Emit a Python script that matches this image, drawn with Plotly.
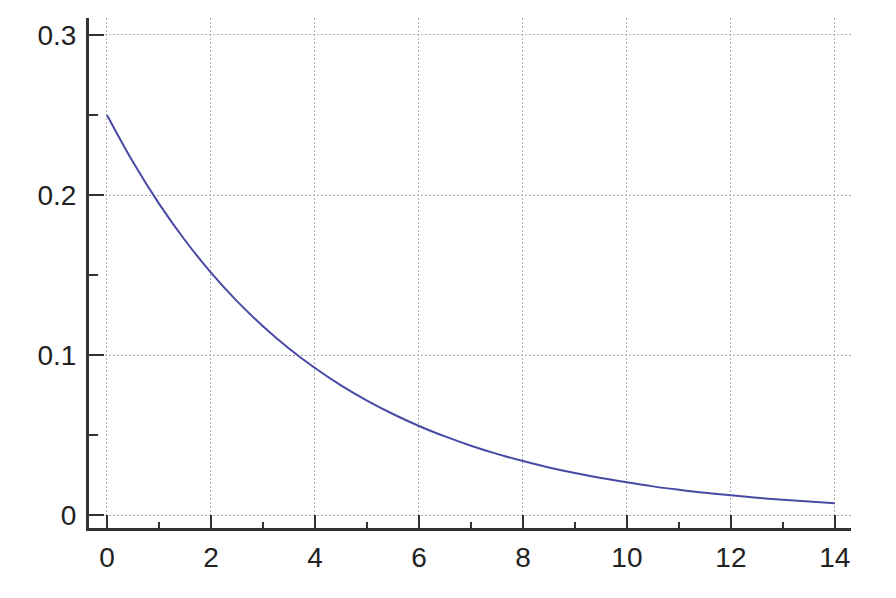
"""Decay curve, Mathematica-style frame."""

import plotly.graph_objects as go

# values
x_vals = [0, 0.5, 1, 1.5, 2, 2.5, 3, 3.5, 4, 4.5, 5, 5.5, 6, 6.5, 7,
          7.5, 8, 8.5, 9, 9.5, 10, 10.5, 11, 11.5, 12, 12.5, 13, 13.5, 14]
y_vals = [0.250, 0.2206, 0.1947, 0.1718, 0.1516, 0.1338, 0.1181, 0.1042,
          0.0920, 0.0812, 0.0717, 0.0633, 0.0558, 0.0493, 0.0435, 0.0384,
          0.0339, 0.0299, 0.0264, 0.0233, 0.0206, 0.0181, 0.0160, 0.0141,
          0.0125, 0.0110, 0.0097, 0.0086, 0.0076]

x_ticks = [0, 2, 4, 6, 8, 10, 12, 14]
y_ticks = [0, 0.1, 0.2, 0.3]
y_tick_text = ["0", "0.1", "0.2", "0.3"]

axis_color = "#333333"
grid_color = "#aaaaaa"
tick_font = dict(family="Liberation Sans, Arial", size=28, color="#222222")

fig = go.Figure()

fig.add_trace(
    go.Scatter(
        x=x_vals,
        y=y_vals,
        mode="lines",
        line=dict(color="rgb(72,74,165)", width=2, shape="spline"),
        showlegend=False,
        hoverinfo="skip",
    )
)

fig.update_xaxes(
    range=[-0.346, 14.31],
    tickvals=x_ticks,
    ticks="inside",
    ticklen=13,
    tickwidth=2,
    tickcolor=axis_color,
    showline=True,
    linecolor=axis_color,
    linewidth=3,
    showgrid=True,
    gridcolor=grid_color,
    griddash="2px,2px",
    gridwidth=1,
    zeroline=False,
    minor=dict(dtick=1, tick0=1, ticks="inside", ticklen=6, tickwidth=1.5,
               tickcolor=axis_color, showgrid=False),
    tickfont=tick_font,
    ticklabelstandoff=2,
)

fig.update_yaxes(
    range=[-0.0079, 0.3106],
    tickvals=y_ticks,
    ticktext=y_tick_text,
    ticks="inside",
    ticklen=15,
    tickwidth=2,
    tickcolor=axis_color,
    showline=True,
    linecolor=axis_color,
    linewidth=3,
    showgrid=True,
    gridcolor=grid_color,
    griddash="2px,2px",
    gridwidth=1,
    zeroline=False,
    minor=dict(dtick=0.05, tick0=0.05, ticks="inside", ticklen=9, tickwidth=1.5,
               tickcolor=axis_color, showgrid=False),
    tickfont=tick_font,
    ticklabelstandoff=4,
)

# page body adds an 8px offset, so the figure is sized/margined to compensate
fig.update_layout(
    width=888,
    height=590,
    margin=dict(l=81, r=45, t=10, b=70),
    plot_bgcolor="white",
    paper_bgcolor="white",
)

fig.write_html("out.html")
